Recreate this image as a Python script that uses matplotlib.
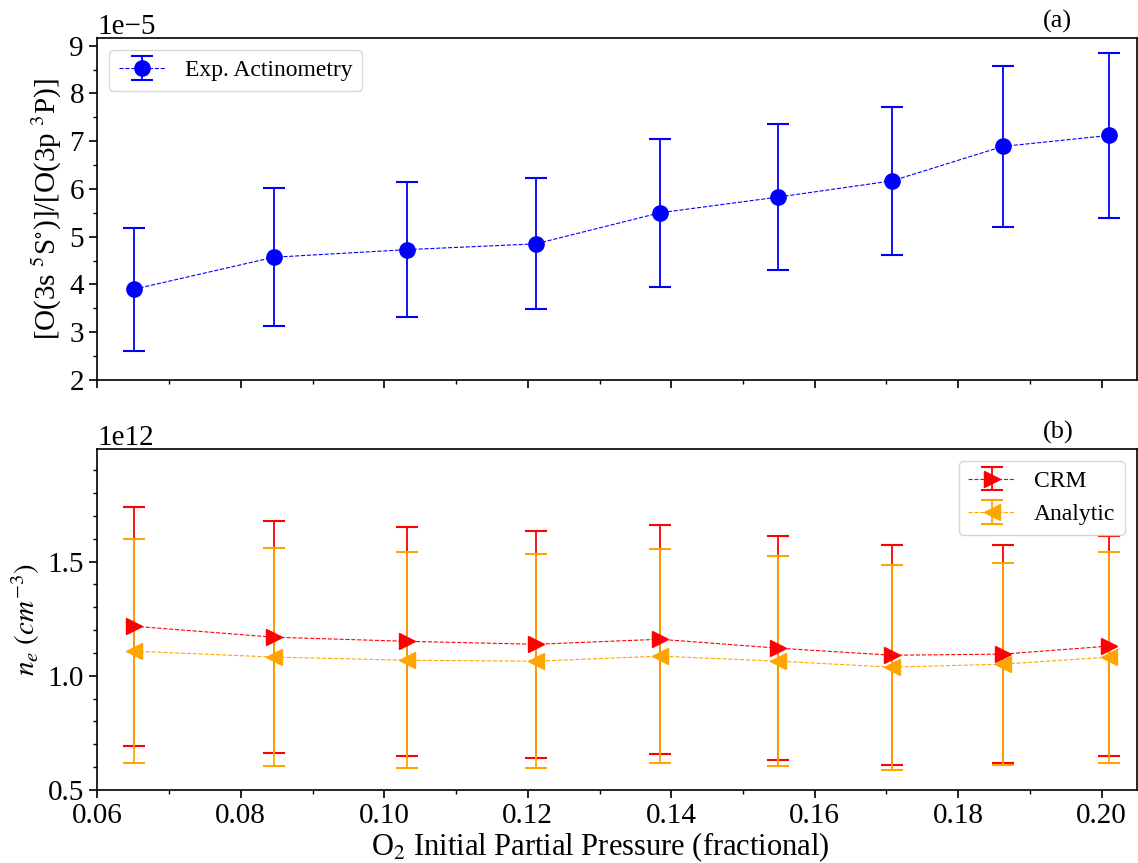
import matplotlib
matplotlib.use("Agg")
import matplotlib.pyplot as plt
from matplotlib.ticker import AutoMinorLocator, MultipleLocator

plt.rcParams['font.family'] = ['Liberation Serif', 'DejaVu Serif']
plt.rcParams['mathtext.fontset'] = 'stix'

# Data
x_frac = [0.0651, 0.0846, 0.1032, 0.1211, 0.1384, 0.1549, 0.1708, 0.1862, 0.2010]

ratio = [3.90e-5, 4.57e-5, 4.73e-5, 4.85e-5, 5.50e-5, 5.83e-5, 6.17e-5, 6.89e-5, 7.12e-5]
ratio_err = [1.29e-5, 1.45e-5, 1.41e-5, 1.37e-5, 1.55e-5, 1.53e-5, 1.55e-5, 1.68e-5, 1.73e-5]

ne_crm = [1.217e12, 1.169e12, 1.151e12, 1.138e12, 1.160e12, 1.121e12, 1.090e12, 1.095e12, 1.130e12]
ne_crm_err = [0.523e12, 0.507e12, 0.502e12, 0.496e12, 0.501e12, 0.489e12, 0.482e12, 0.476e12, 0.482e12]

ne_an = [1.108e12, 1.082e12, 1.068e12, 1.064e12, 1.086e12, 1.064e12, 1.038e12, 1.051e12, 1.082e12]
ne_an_err = [0.490e12, 0.478e12, 0.473e12, 0.468e12, 0.470e12, 0.459e12, 0.449e12, 0.442e12, 0.462e12]

fig = plt.figure(figsize=(11.38, 8.63), dpi=100)
ax1 = fig.add_axes([0.0855, 0.5597, 0.9135, 0.3959])
ax2 = fig.add_axes([0.0855, 0.0846, 0.9135, 0.3951], sharex=ax1)

ax1.errorbar(x_frac, ratio, yerr=ratio_err, fmt='o', color='blue', ls='--', lw=0.8,
             elinewidth=1.3, capsize=8, capthick=1.5, markersize=11,
             label='Exp. Actinometry')
ax1.set_ylim(2e-5, 9.154e-5)
ax1.yaxis.set_major_locator(MultipleLocator(1e-5))
ax1.set_ylabel(r'[O(3s$\ ^5$S$^{\circ}$)]/[O(3p$\ ^3$P)]', fontsize=21)
ax1.legend(loc='upper left', fontsize=17, framealpha=0.8)
ax1.text(0.91, 1.015, '(a)', transform=ax1.transAxes, fontsize=19, va='bottom')
plt.setp(ax1.get_xticklabels(), visible=False)

ax2.errorbar(x_frac, ne_crm, yerr=ne_crm_err, fmt='>', color='red', ls='--', lw=0.8,
             elinewidth=1.3, capsize=8, capthick=1.5, markersize=11, label='CRM')
ax2.errorbar(x_frac, ne_an, yerr=ne_an_err, fmt='<', color='orange', ls='--', lw=0.8,
             elinewidth=1.3, capsize=8, capthick=1.5, markersize=11, label='Analytic')
ax2.set_ylim(0.5e12, 1.993e12)
ax2.yaxis.set_major_locator(MultipleLocator(0.5e12))
ax2.set_ylabel(r'$n_e\ (cm^{-3})$', fontsize=21)
ax2.set_xlabel(r'O$_2$ Initial Partial Pressure (fractional)', fontsize=22, labelpad=1)
ax2.xaxis.label.set_x(0.484)
ax2.legend(loc='upper right', fontsize=17, framealpha=0.8)
ax2.text(0.91, 1.015, '(b)', transform=ax2.transAxes, fontsize=19, va='bottom')

ax2.set_xlim(0.06, 0.2049)
ax2.xaxis.set_major_locator(MultipleLocator(0.02))

for ax in (ax1, ax2):
    ax.xaxis.set_minor_locator(AutoMinorLocator(2))
    ax.yaxis.set_minor_locator(AutoMinorLocator(5 if ax is ax2 else 2))
    ax.tick_params(axis='both', which='major', labelsize=21, length=6, width=1.2)
    ax.tick_params(axis='both', which='minor', length=3, width=1.0)
    ax.yaxis.get_offset_text().set_fontsize(21)
    for s in ax.spines.values():
        s.set_linewidth(1.2)

fig.savefig('out.png', dpi=100)
